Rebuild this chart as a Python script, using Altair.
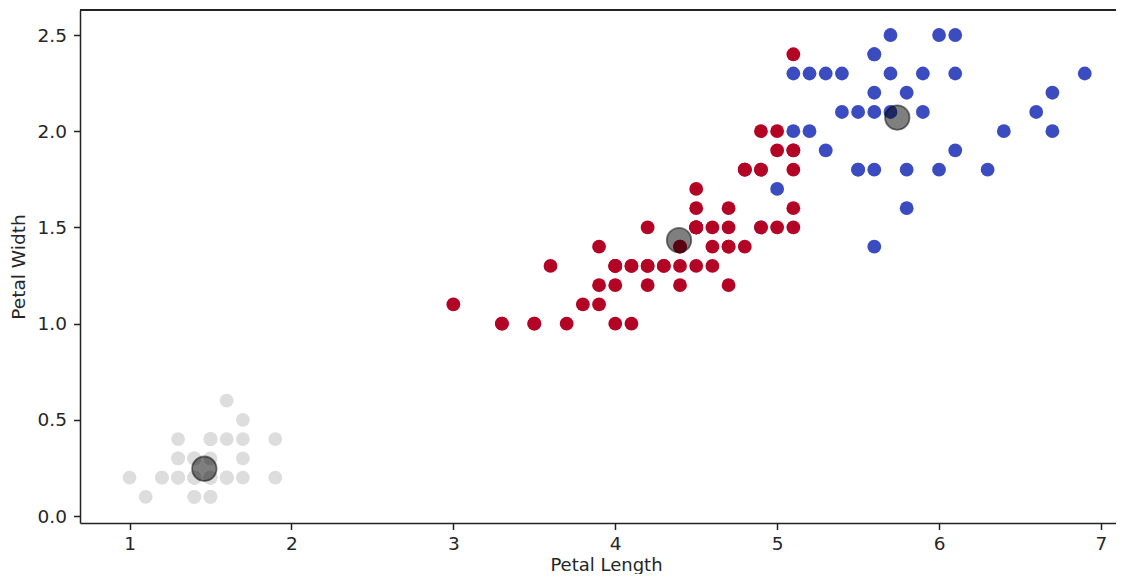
import altair as alt
import pandas as pd

# Iris petal measurements (cm), in dataset order
petal_length = [
    1.4,1.4,1.3,1.5,1.4,1.7,1.4,1.5,1.4,1.5,1.5,1.6,1.4,1.1,1.2,1.5,1.3,1.4,1.7,1.5,
    1.7,1.5,1.0,1.7,1.9,1.6,1.6,1.5,1.4,1.6,1.6,1.5,1.5,1.4,1.5,1.2,1.3,1.4,1.3,1.5,
    1.3,1.3,1.3,1.6,1.9,1.4,1.6,1.4,1.5,1.4,
    4.7,4.5,4.9,4.0,4.6,4.5,4.7,3.3,4.6,3.9,3.5,4.2,4.0,4.7,3.6,4.4,4.5,4.1,4.5,3.9,
    4.8,4.0,4.9,4.7,4.3,4.4,4.8,5.0,4.5,3.5,3.8,3.7,3.9,5.1,4.5,4.5,4.7,4.4,4.1,4.0,
    4.4,4.6,4.0,3.3,4.2,4.2,4.2,4.3,3.0,4.1,
    6.0,5.1,5.9,5.6,5.8,6.6,4.5,6.3,5.8,6.1,5.1,5.3,5.5,5.0,5.1,5.3,5.5,6.7,6.9,5.0,
    5.7,4.9,6.7,4.9,5.7,6.0,4.8,4.9,5.6,5.8,6.1,6.4,5.6,5.1,5.6,6.1,5.6,5.5,4.8,5.4,
    5.6,5.1,5.1,5.9,5.7,5.2,5.0,5.2,5.4,5.1,
]
petal_width = [
    0.2,0.2,0.2,0.2,0.2,0.4,0.3,0.2,0.2,0.1,0.2,0.2,0.1,0.1,0.2,0.4,0.4,0.3,0.3,0.3,
    0.2,0.4,0.2,0.5,0.2,0.2,0.4,0.2,0.2,0.2,0.2,0.4,0.1,0.2,0.2,0.2,0.2,0.1,0.2,0.2,
    0.3,0.3,0.2,0.6,0.4,0.3,0.2,0.2,0.2,0.2,
    1.4,1.5,1.5,1.3,1.5,1.3,1.6,1.0,1.3,1.4,1.0,1.5,1.0,1.4,1.3,1.4,1.5,1.0,1.5,1.1,
    1.8,1.3,1.5,1.2,1.3,1.4,1.4,1.7,1.5,1.0,1.1,1.0,1.2,1.6,1.5,1.6,1.5,1.3,1.3,1.3,
    1.2,1.4,1.2,1.0,1.3,1.2,1.3,1.3,1.1,1.3,
    2.5,1.9,2.1,1.8,2.2,2.1,1.7,1.8,1.8,2.5,2.0,1.9,2.1,2.0,2.4,2.3,1.8,2.2,2.3,1.5,
    2.3,2.0,2.0,1.8,2.1,1.8,1.8,1.8,2.1,1.6,1.9,2.0,2.2,1.5,1.4,2.3,2.4,1.8,1.8,2.1,
    2.4,2.3,1.9,2.3,2.5,2.3,1.9,2.0,2.3,1.8,
]
# k-means cluster label for each sample
cluster = (
    [1] * 50
    + [2,2,0,2,2,2,2,2,2,2,2,2,2,2,2,2,2,2,2,2,2,2,2,2,2,2,2,0,2,2,
       2,2,2,2,2,2,2,2,2,2,2,2,2,2,2,2,2,2,2,2]
    + [0,2,0,0,0,0,2,0,0,0,0,0,0,2,2,0,0,0,0,2,0,2,0,2,0,0,2,2,0,0,
       0,0,0,2,0,0,0,0,2,0,0,0,2,0,0,0,2,0,0,2]
)
# cluster centres (petal length, petal width)
center_length = [1.462, 4.394, 5.742]
center_width = [0.246, 1.434, 2.071]

cluster_ids = [0, 1, 2]
cluster_colors = ["#3b4cc0", "#dddddd", "#b40426"]

x_ticks = [1, 2, 3, 4, 5, 6, 7]
y_ticks = [0.0, 0.5, 1.0, 1.5, 2.0, 2.5]

df = pd.DataFrame({"pl": petal_length, "pw": petal_width, "cluster": cluster,
                   "order": list(range(len(petal_length)))})
centers = pd.DataFrame({"pl": center_length, "pw": center_width})

W, H = 1036, 513      # visible view; the x scale runs a little past the right edge (cropped)
XR = 1042
xs = alt.Scale(domain=[0.694, 7.130], range=[0, XR], nice=False, zero=False)
ys = alt.Scale(domain=[-0.036, 2.63], nice=False, zero=False)

x_enc = alt.X("pl:Q", scale=xs, title="Petal Length",
              axis=alt.Axis(values=x_ticks, format="d", titleX=526, titleY=47,
                            titleBaseline="alphabetic", labelPadding=5, titleFontSize=18))
y_enc = alt.Y("pw:Q", scale=ys, title="Petal Width",
              axis=alt.Axis(values=y_ticks, format=".1f", titleX=-56, titleY=H / 2,
                            titleAngle=270, titleBaseline="alphabetic",
                            titleAlign="center"))

points = alt.Chart(df).mark_circle(size=190, opacity=1).encode(
    x=x_enc,
    y=y_enc,
    color=alt.Color("cluster:N", scale=alt.Scale(domain=cluster_ids, range=cluster_colors),
                    legend=None),
    order=alt.Order("order:Q"),
)

cent = alt.Chart(centers).mark_circle(
    size=600, color="black", fillOpacity=0.5, stroke="black",
    strokeWidth=1.8, strokeOpacity=0.5, opacity=1
).encode(x=alt.X("pl:Q", scale=xs), y=alt.Y("pw:Q", scale=ys))

top = alt.Chart(centers).mark_rule(color="#222", strokeWidth=1.5).encode(
    x=alt.value(0), x2=alt.value(XR), y=alt.value(0)
)

chart = alt.layer(points, cent, top).properties(
    width=W, height=H,
    autosize=alt.AutoSizeParams(type="none"),
    padding={"left": 72, "top": 2, "right": 0, "bottom": 51},
).configure_view(stroke=None).configure_axis(
    grid=False,
    domainColor="#222", domainWidth=1.5,
    tickColor="#222", tickWidth=1.5, tickSize=6.5,
    labelFont="DejaVu Sans", labelFontSize=18.5, labelColor="#262626", labelPadding=7,
    titleFont="DejaVu Sans", titleFontSize=18.5, titleFontWeight="normal", titleColor="#262626",
)

chart.save("out.html", embed_options={"renderer": "svg", "actions": False})
